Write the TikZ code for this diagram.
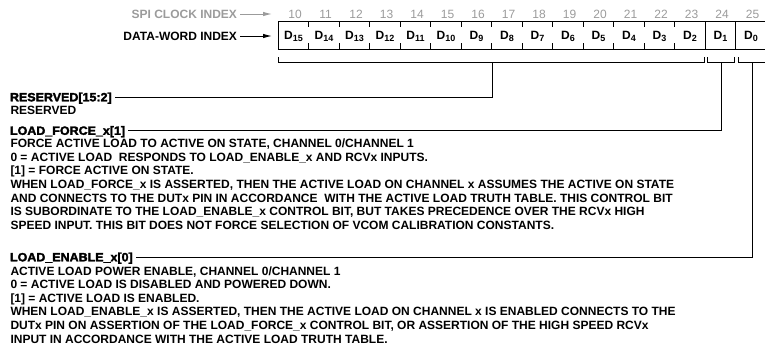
\documentclass[tikz,border=0pt]{standalone}
\usepackage{fontspec}
\setmainfont{Liberation Sans}
\newfontfamily\headfont{Liberation Sans}[FakeBold=2.4, FakeStretch=1.04]
\definecolor{clkgray}{RGB}{155,155,155}
\usetikzlibrary{arrows.meta, positioning}
\newcommand{\bitlbl}[1]{D\raisebox{-2.4pt}{\fontsize{9}{9}\selectfont #1}}

\begin{document}
\begin{tikzpicture}[x=1pt, y=-1pt, line width=1pt,
  lbl/.style={font=\bfseries\fontsize{12}{13.5}\selectfont, inner sep=0pt, text height=8.6pt, text depth=0pt},
  hdr/.style={lbl, font=\headfont\bfseries\fontsize{12}{13.5}\selectfont, anchor=west, outer xsep=3pt},
  desc/.style={font=\bfseries\fontsize{12}{13.55}\selectfont, inner sep=0pt, align=left, anchor=north west},
  clknum/.style={lbl, font=\fontsize{12}{13.5}\selectfont, text=clkgray},
  ptr/.style={-{Latex[length=9pt,width=4.5pt]}}]
\useasboundingbox (0,0) rectangle (765,349);

\node[lbl, text=clkgray, anchor=east, outer xsep=3pt] (spi) at (240,14) {SPI CLOCK INDEX};
\coordinate (spitip) at (272,14);
\draw[ptr, clkgray] (spi.east) -- (spitip);
\node[lbl, anchor=east, outer xsep=3pt] (dwi) at (240,36) {DATA-WORD INDEX};
\coordinate (dwitip) at (272,36);
\draw[ptr] (dwi.east) -- (dwitip);

\draw (278,21) rectangle (768,49);
\foreach \i in {1,...,13}
  \draw ({278+30.5*\i},21) -- +(0,6) ({278+30.5*\i},43) -- +(0,6);
\draw (705,21) -- (705,49) (735.5,21) -- (735.5,49);
\foreach \b [evaluate=\b as \xc using 293.5+30.5*(15-\b), evaluate=\b as \clkno using int(25-\b)] in {15,14,...,0} {
  \node[lbl] (d\b) at (\xc,35) {\bitlbl{\b}};
  \node[clknum] (clk\b) at (\xc+1.5,14) {\clkno};
}

\draw (278,57) |- (704,62) -- (704,57);
\draw (707.5,57) |- (734,62) -- (734,57);
\draw (738,57) |- (770,62);
\coordinate (rsv) at (492,62);
\coordinate (frc) at (721.5,62);
\coordinate (enb) at (752.5,62);

\node[hdr] (reshdr) at (7,97) {RESERVED[15:2]};
\node[desc] (resdesc) at (10,105.2) {RESERVED};
\node[hdr] (frchdr) at (7,130.5) {LOAD\_FORCE\_x[1]};
\node[desc] (frcdesc) at (10,138.6) {FORCE ACTIVE LOAD TO ACTIVE ON STATE, CHANNEL 0/CHANNEL 1\\
  0 = ACTIVE LOAD\ \ RESPONDS TO LOAD\_ENABLE\_x AND RCVx INPUTS.\\
  {[1]} = FORCE ACTIVE ON STATE.\\
  WHEN LOAD\_FORCE\_x IS ASSERTED, THEN THE ACTIVE LOAD ON CHANNEL x ASSUMES THE ACTIVE ON STATE\\
  AND CONNECTS TO THE DUTx PIN IN ACCORDANCE\ \ WITH THE ACTIVE LOAD TRUTH TABLE. THIS CONTROL BIT\\
  IS SUBORDINATE TO THE LOAD\_ENABLE\_x CONTROL BIT, BUT TAKES PRECEDENCE OVER THE RCVx HIGH\\
  SPEED INPUT. THIS BIT DOES NOT FORCE SELECTION OF VCOM CALIBRATION CONSTANTS.};
\node[hdr] (enbhdr) at (7,257) {LOAD\_ENABLE\_x[0]};
\node[desc] (enbdesc) at (10,266.1) {ACTIVE LOAD POWER ENABLE, CHANNEL 0/CHANNEL 1\\
  0 = ACTIVE LOAD IS DISABLED AND POWERED DOWN.\\
  {[1]} = ACTIVE LOAD IS ENABLED.\\
  WHEN LOAD\_ENABLE\_x IS ASSERTED, THEN THE ACTIVE LOAD ON CHANNEL x IS ENABLED CONNECTS TO THE\\
  DUTx PIN ON ASSERTION OF THE LOAD\_FORCE\_x CONTROL BIT, OR ASSERTION OF THE HIGH SPEED RCVx\\
  INPUT IN ACCORDANCE WITH THE ACTIVE LOAD TRUTH TABLE.};

\draw (rsv) |- (reshdr.east);
\draw (frc) |- (frchdr.east);
\draw (enb) |- (enbhdr.east);
\end{tikzpicture}
\end{document}
